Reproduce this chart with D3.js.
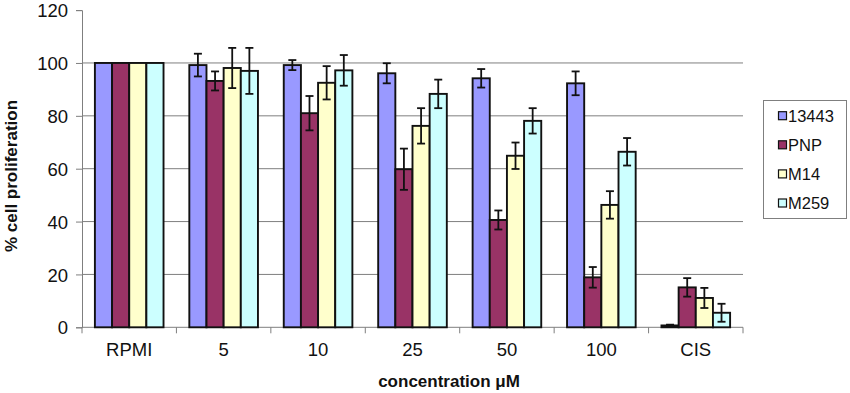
<!DOCTYPE html>
<html lang="en">
<head>
<meta charset="UTF-8">
<title>Cell proliferation</title>
<script src="https://cdn.jsdelivr.net/npm/d3@7"></script>
<style>
    body, html { margin: 0; padding: 0; background: #fff; }
    svg { display: block; font-family: "Liberation Sans", Arial, sans-serif; }
    .tick-label { font-size: 18.5px; fill: #111; }
    .axis-title { font-size: 17px; font-weight: bold; fill: #111; }
    .legend text { font-size: 16.5px; fill: #111; }
</style>
</head>
<body>
<svg width="850" height="393"></svg>
<script>
    // data
    const categories = ["RPMI", "5", "10", "25", "50", "100", "CIS"];
    const seriesNames = ["13443", "PNP", "M14", "M259"];
    const seriesColors = ["#9999FF", "#993366", "#FFFFCC", "#CCFFFF"];
    const yTicks = [0, 20, 40, 60, 80, 100, 120];

    const values13443 = [100, 99.2, 99.2, 96.1, 94.2, 92.3, 0.7];
    const err13443    = [0, 4.3, 1.9, 3.8, 3.5, 4.5, 0.3];
    const valuesPNP   = [100, 93.2, 81.0, 59.8, 40.6, 18.9, 15.1];
    const errPNP      = [0, 3.6, 6.5, 7.8, 3.6, 3.9, 3.5];
    const valuesM14   = [100, 98.1, 92.5, 76.2, 64.9, 46.3, 11.1];
    const errM14      = [0, 7.6, 6.3, 6.7, 5.0, 5.2, 3.8];
    const valuesM259  = [100, 97.0, 97.2, 88.3, 78.1, 66.4, 5.5];
    const errM259     = [0, 8.7, 5.8, 5.4, 4.8, 5.2, 3.4];

    const allValues = [values13443, valuesPNP, valuesM14, valuesM259];
    const allErrors = [err13443, errPNP, errM14, errM259];

    const svg = d3.select("svg");
    const plotLeft = 82, plotRight = 743, plotTop = 10.1, plotBottom = 327.3;

    const x = d3.scaleBand().domain(categories).range([plotLeft, plotRight]);
    const xs = d3.scaleBand().domain(seriesNames)
        .range([12.9, x.bandwidth() - 12.9]);
    const y = d3.scaleLinear().domain([0, 120]).range([plotBottom, plotTop]);

    // gridlines
    svg.append("g")
        .selectAll("line")
        .data(yTicks.filter(t => t > 0 && t < 120))
        .join("line")
        .attr("x1", plotLeft).attr("x2", plotRight)
        .attr("y1", d => y(d)).attr("y2", d => y(d))
        .attr("stroke", "#7f7f7f").attr("stroke-width", 1);

    // y axis
    const yAxis = svg.append("g")
        .attr("transform", `translate(${plotLeft},0)`)
        .call(d3.axisLeft(y).tickValues(yTicks).tickSize(6).tickPadding(8));
    yAxis.attr("font-family", null).attr("font-size", null);
    yAxis.select(".domain").attr("stroke", "#7f7f7f");
    yAxis.selectAll(".tick line").attr("stroke", "#7f7f7f");
    yAxis.selectAll(".tick text").attr("class", "tick-label").attr("dy", "0.36em");

    // x axis, ticks at band boundaries
    svg.append("line")
        .attr("x1", plotLeft).attr("x2", plotRight)
        .attr("y1", plotBottom).attr("y2", plotBottom)
        .attr("stroke", "#7f7f7f");
    svg.append("g")
        .selectAll("line")
        .data(categories.concat(["_end"]))
        .join("line")
        .attr("x1", (d, i) => i < categories.length ? x(d) : plotRight)
        .attr("x2", (d, i) => i < categories.length ? x(d) : plotRight)
        .attr("y1", plotBottom).attr("y2", plotBottom + 6)
        .attr("stroke", "#7f7f7f");
    svg.append("g")
        .selectAll("text")
        .data(categories)
        .join("text")
        .attr("class", "tick-label")
        .attr("x", d => x(d) + x.bandwidth() / 2)
        .attr("y", 356)
        .attr("text-anchor", "middle")
        .text(d => d);

    // bars
    const groups = svg.append("g")
        .selectAll("g")
        .data(categories)
        .join("g")
        .attr("transform", d => `translate(${x(d)},0)`);

    seriesNames.forEach((s, si) => {
        groups.append("rect")
            .attr("x", xs(s))
            .attr("width", xs.bandwidth())
            .attr("y", (d, ci) => y(allValues[si][ci]))
            .attr("height", (d, ci) => plotBottom - y(allValues[si][ci]))
            .attr("fill", seriesColors[si])
            .attr("stroke", "#111")
            .attr("stroke-width", 1.9);
    });

    // error bars
    const idx = d => categories.indexOf(d);
    seriesNames.forEach((s, si) => {
        const cx = xs(s) + xs.bandwidth() / 2;
        const eb = groups.filter(d => allErrors[si][idx(d)] > 0).append("g")
            .attr("stroke", "#111").attr("stroke-width", 1.8);
        eb.append("line")
            .attr("x1", cx).attr("x2", cx)
            .attr("y1", d => y(allValues[si][idx(d)] + allErrors[si][idx(d)]))
            .attr("y2", d => y(allValues[si][idx(d)] - allErrors[si][idx(d)]));
        [1, -1].forEach(sign => {
            eb.append("line")
                .attr("x1", cx - 4).attr("x2", cx + 4)
                .attr("y1", d => y(allValues[si][idx(d)] + sign * allErrors[si][idx(d)]))
                .attr("y2", d => y(allValues[si][idx(d)] + sign * allErrors[si][idx(d)]));
        });
    });

    // axis titles
    svg.append("text")
        .attr("class", "axis-title")
        .attr("x", 449)
        .attr("y", 387)
        .attr("text-anchor", "middle")
        .text("concentration \u03BCM");

    svg.append("text")
        .attr("class", "axis-title")
        .attr("transform", "translate(17,176) rotate(-90)")
        .attr("text-anchor", "middle")
        .text("% cell proliferation");

    // legend
    const legend = svg.append("g").attr("class", "legend");
    legend.append("rect")
        .attr("x", 763.5).attr("y", 100.5)
        .attr("width", 83).attr("height", 118)
        .attr("fill", "#fff").attr("stroke", "#7f7f7f");
    const items = legend.selectAll("g.item")
        .data(seriesNames)
        .join("g")
        .attr("class", "item")
        .attr("transform", (d, i) => `translate(778,${115.7 + i * 29.1})`);
    items.append("rect")
        .attr("x", 0.5).attr("y", -4)
        .attr("width", 8).attr("height", 8)
        .attr("fill", (d, i) => seriesColors[i])
        .attr("stroke", "#111").attr("stroke-width", 1.2);
    items.append("text")
        .attr("x", 10)
        .attr("dy", "0.36em")
        .text(d => d);
</script>
</body>
</html>
